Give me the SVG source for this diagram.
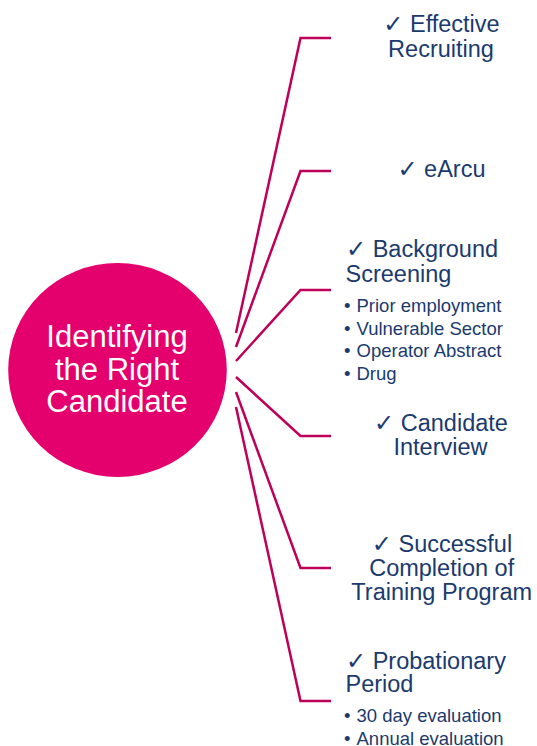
<svg xmlns="http://www.w3.org/2000/svg" width="537" height="746" viewBox="0 0 537 746">
<style>
.lbl{font-family:"Liberation Sans",Arial,sans-serif;font-size:23.5px;fill:#1B3A6E}
.mid{text-anchor:middle}
.chk{font-family:"DejaVu Sans",sans-serif;font-weight:bold;font-size:24px}
.bul{font-family:"Liberation Sans",Arial,sans-serif;font-size:18.5px;fill:#1B3A6E}
.hub{font-family:"Liberation Sans",Arial,sans-serif;font-size:31px;fill:#FFFFFF;text-anchor:middle}
.conn{fill:none;stroke:#BE0058;stroke-width:2.5;stroke-linejoin:miter}
</style>
<rect width="537" height="746" fill="#FFFFFF"/>
<g id="connectors">
<polyline class="conn" points="236,333 300.5,38 331,38"/>
<polyline class="conn" points="236,347 300.5,171 331,171"/>
<polyline class="conn" points="236,361 300.5,290 331,290"/>
<polyline class="conn" points="236,377 300.5,436 331,436"/>
<polyline class="conn" points="236,392 300.5,568 331,568"/>
<polyline class="conn" points="236,407 300.5,701 331,701"/>
</g>
<g id="hub">
<ellipse cx="117.5" cy="370" rx="109.3" ry="107" fill="#E4006D"/>
<text class="hub" x="117" y="346.5">Identifying</text>
<text class="hub" x="117" y="379.5">the Right</text>
<text class="hub" x="117" y="412">Candidate</text>
</g>
<g id="effective-recruiting">
<text class="lbl mid" x="441.5" y="32"><tspan class="chk">✓</tspan> Effective</text>
<text class="lbl mid" x="441" y="57">Recruiting</text>
</g>
<g id="earcu">
<text class="lbl mid" x="441.5" y="177"><tspan class="chk">✓</tspan> eArcu</text>
</g>
<g id="background-screening">
<text class="lbl" x="346" y="256.5"><tspan class="chk">✓</tspan> Background</text>
<text class="lbl" x="345.5" y="281.5">Screening</text>
<text class="bul" x="344" y="311.5">•</text><text class="bul" x="356.5" y="311.5">Prior employment</text>
<text class="bul" x="344" y="334.5">•</text><text class="bul" x="356.5" y="334.5">Vulnerable Sector</text>
<text class="bul" x="344" y="357">•</text><text class="bul" x="356.5" y="357">Operator Abstract</text>
<text class="bul" x="344" y="379.5">•</text><text class="bul" x="356.5" y="379.5">Drug</text>
</g>
<g id="candidate-interview">
<text class="lbl mid" x="441" y="430.5"><tspan class="chk">✓</tspan> Candidate</text>
<text class="lbl mid" x="440.5" y="455">Interview</text>
</g>
<g id="successful-completion">
<text class="lbl mid" x="442" y="551.5"><tspan class="chk">✓</tspan> Successful</text>
<text class="lbl mid" x="441.7" y="576">Completion of</text>
<text class="lbl mid" x="441.7" y="600">Training Program</text>
</g>
<g id="probationary-period">
<text class="lbl" x="346" y="668.5"><tspan class="chk">✓</tspan> Probationary</text>
<text class="lbl" x="345.5" y="692">Period</text>
<text class="bul" x="344" y="722">•</text><text class="bul" x="356.5" y="722">30 day evaluation</text>
<text class="bul" x="344" y="744.5">•</text><text class="bul" x="356.5" y="744.5">Annual evaluation</text>
</g>
</svg>
